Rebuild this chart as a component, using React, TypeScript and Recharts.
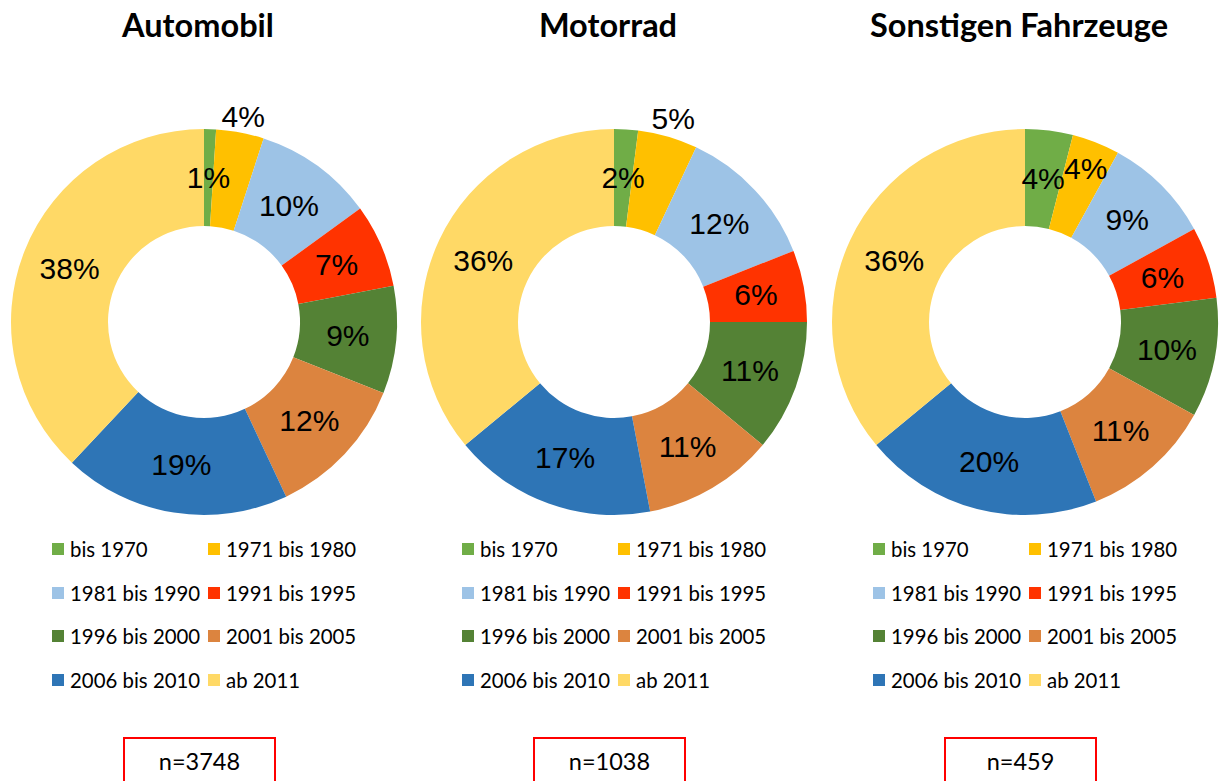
import React from 'react';
import { PieChart, Pie, Cell } from 'recharts';

const categories = ['bis 1970', '1971 bis 1980', '1981 bis 1990', '1991 bis 1995', '1996 bis 2000', '2001 bis 2005', '2006 bis 2010', 'ab 2011'];
const automobilValues = [1, 4, 10, 7, 9, 12, 19, 38];
const motorradValues = [2, 5, 12, 6, 11, 11, 17, 36];
const sonstigeValues = [4, 4, 9, 6, 10, 11, 20, 36];
const titles = ['Automobil', 'Motorrad', 'Sonstigen Fahrzeuge'];
const sampleSizes = [3748, 1038, 459];

const colors = ['#70AD47', '#FFC000', '#9DC3E6', '#FF3300', '#548235', '#DC843F', '#2E75B6', '#FFD966'];

// layout
const centers = [204, 614, 1025];
const labelRadii: Array<Record<number, number>> = [{ 1: 209 }, { 1: 212 }, { 1: 165 }];
const PANEL_W = 410;
const CY = 322;
const INNER = 96;
const OUTER = 193;
const RAD = Math.PI / 180;

const seriesValues = [automobilValues, motorradValues, sonstigeValues];

const makeLabel = (overrides: Record<number, number>) => (props: any) => {
  const { cx, cy, midAngle, innerRadius, outerRadius, index, value } = props;
  const r = overrides[index] ?? (innerRadius + outerRadius) / 2;
  const x = cx + r * Math.cos(-midAngle * RAD);
  const y = cy + r * Math.sin(-midAngle * RAD);
  return (
    <text x={x} y={y} textAnchor="middle" dominantBaseline="central" fill="#000" fontFamily="'Liberation Sans', Arial, sans-serif" fontSize={30}>
      {`${value}%`}
    </text>
  );
};

const Panel = ({ i }: { i: number }) => {
  const c = centers[i];
  const data = categories.map((name, k) => ({ name, value: seriesValues[i][k] }));
  const rows = [0, 1, 2, 3];
  return (
    <>
      <div style={{ position: 'absolute', left: c - 6 - 300, top: 5, width: 600, textAlign: 'center', fontFamily: 'Lato, sans-serif', fontWeight: 700, fontSize: 32.5, lineHeight: '40px', color: '#000', whiteSpace: 'nowrap' }}>
        {titles[i]}
      </div>
      <div style={{ position: 'absolute', left: c - PANEL_W / 2, top: 0 }}>
        <PieChart width={PANEL_W} height={530} margin={{ top: 0, right: 0, bottom: 0, left: 0 }}>
          <Pie
            data={data}
            dataKey="value"
            nameKey="name"
            cx={PANEL_W / 2}
            cy={CY}
            startAngle={90}
            endAngle={-270}
            innerRadius={INNER}
            outerRadius={OUTER}
            stroke="none"
            isAnimationActive={false}
            label={makeLabel(labelRadii[i])}
            labelLine={false}
          >
            {data.map((d, k) => (
              <Cell key={d.name} fill={colors[k]} />
            ))}
          </Pie>
        </PieChart>
      </div>
      {rows.map((r) =>
        [0, 1].map((col) => {
          const k = r * 2 + col;
          const mx = c + (col === 0 ? -152 : 4);
          const y = 549 + r * 43.5;
          return (
            <div key={`${r}-${col}`} style={{ position: 'absolute', left: mx, top: y - 14, height: 28, display: 'flex', alignItems: 'center', whiteSpace: 'nowrap' }}>
              <div style={{ width: 12, height: 12, background: colors[k], marginRight: 6 }} />
              <span style={{ fontFamily: 'Lato, sans-serif', fontSize: 20.4, color: '#000', lineHeight: '28px' }}>{categories[k]}</span>
            </div>
          );
        })
      )}
      <div style={{ position: 'absolute', left: c - 81, top: 737, width: 149, height: 60, border: '2px solid #FF0000', boxSizing: 'content-box' }}>
        <div style={{ textAlign: 'center', fontFamily: 'Lato, sans-serif', fontSize: 23.5, lineHeight: '24px', marginTop: 10, color: '#000' }}>
          n={sampleSizes[i]}
        </div>
      </div>
    </>
  );
};

export default function App() {
  return (
    <div style={{ position: 'absolute', left: 0, top: 0, width: 1220, height: 781, background: '#fff', overflow: 'hidden' }}>
      {[0, 1, 2].map((i) => (
        <Panel key={i} i={i} />
      ))}
    </div>
  );
}
